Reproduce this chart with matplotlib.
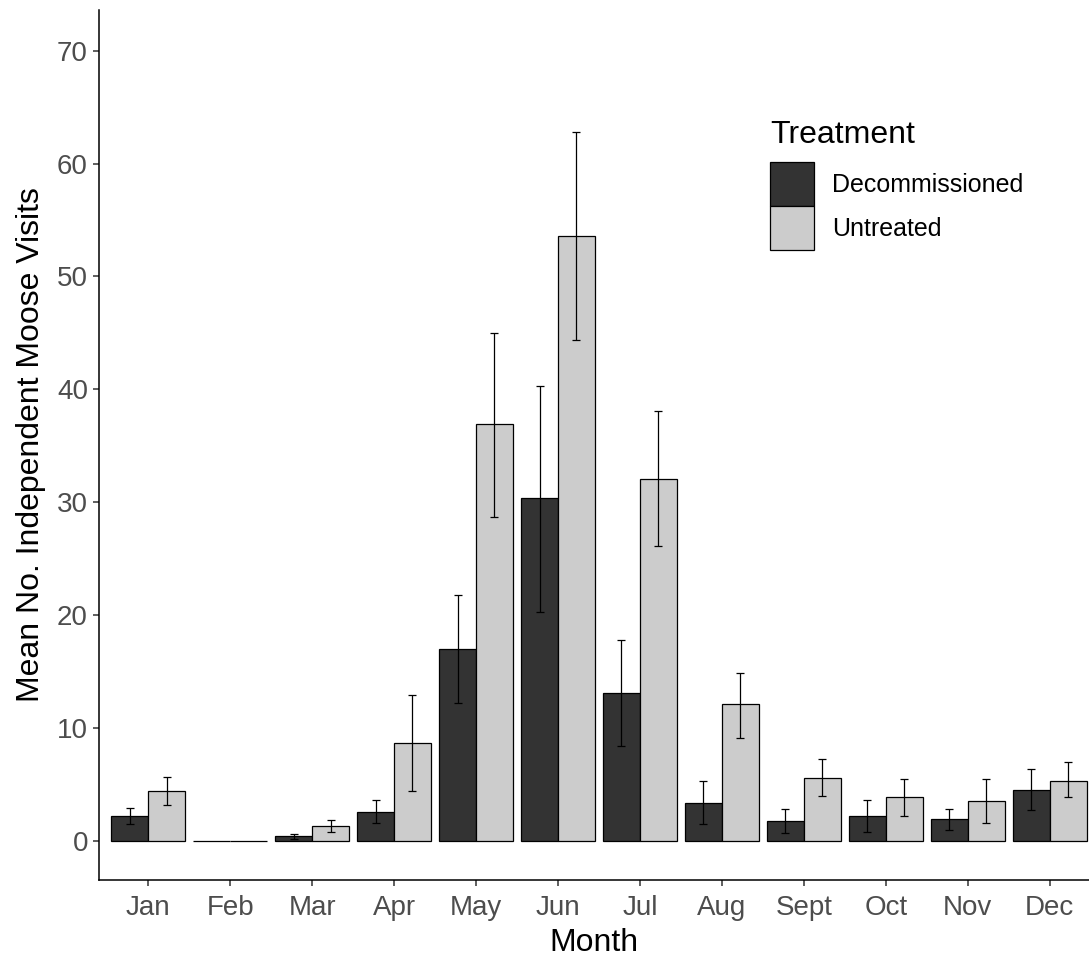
import numpy as np
import matplotlib
matplotlib.use('Agg')
import matplotlib.pyplot as plt
from matplotlib.patches import Patch

plt.rcParams['font.family'] = ['Liberation Sans', 'DejaVu Sans']

months = ['Jan', 'Feb', 'Mar', 'Apr', 'May', 'Jun', 'Jul', 'Aug', 'Sept', 'Oct', 'Nov', 'Dec']
treatments = ['Decommissioned', 'Untreated']

# mean visits and error bar ends
decom_mean = [2.2, 0.0, 0.4, 2.6, 17.0, 30.4, 13.1, 3.4, 1.8, 2.2, 1.95, 4.5]
decom_lo = [1.5, np.nan, 0.2, 1.6, 12.2, 20.3, 8.4, 1.5, 0.7, 0.8, 1.0, 2.7]
decom_hi = [2.9, np.nan, 0.6, 3.6, 21.8, 40.3, 17.8, 5.3, 2.8, 3.6, 2.8, 6.35]

untr_mean = [4.4, 0.0, 1.3, 8.65, 36.9, 53.6, 32.1, 12.1, 5.6, 3.85, 3.55, 5.35]
untr_lo = [3.2, np.nan, 0.75, 4.4, 28.7, 44.4, 26.1, 9.15, 3.95, 2.25, 1.6, 3.85]
untr_hi = [5.7, np.nan, 1.85, 12.9, 45.0, 62.8, 38.1, 14.9, 7.3, 5.5, 5.5, 6.95]

colors = ['#333333', '#cccccc']

fig = plt.figure(figsize=(10.89, 9.6), dpi=100)
ax = fig.add_axes([99/1089, 80/960, 990/1089, 870/960])

x = np.arange(1, len(months) + 1)
w = 0.45
series = [(decom_mean, decom_lo, decom_hi), (untr_mean, untr_lo, untr_hi)]
for i, (m, lo, hi) in enumerate(series):
    xs = x + (i - 0.5) * w
    m = np.array(m)
    ax.bar(xs, m, width=w, color=colors[i], edgecolor='black', linewidth=0.9, zorder=2)
    err = np.vstack([m - np.array(lo), np.array(hi) - m])
    ax.errorbar(xs, m, yerr=err, fmt='none', ecolor='black', elinewidth=0.9,
                capsize=3, capthick=0.9, zorder=3)

ax.set_xlim(0.4, 12.48)
ax.set_ylim(-3.46, 73.6)
ax.set_xticks(x)
ax.set_xticklabels(months)
ax.set_yticks(np.arange(0, 71, 10))

for s in ['top', 'right']:
    ax.spines[s].set_visible(False)
for s in ['left', 'bottom']:
    ax.spines[s].set_linewidth(1.1)
ax.tick_params(axis='both', length=4, width=1.1, color='#333333',
               labelsize=20, labelcolor='#4d4d4d')
ax.tick_params(axis='x', pad=7)
ax.tick_params(axis='y', pad=4)

ax.set_xlabel('Month', fontsize=23, labelpad=5)
ax.set_ylabel('Mean No. Independent Moose Visits', fontsize=23, labelpad=8)

# legend: title drawn separately so it can sit apart from the keys
fig.text(770/1089, 1 - 143/960, 'Treatment', fontsize=23, va='baseline', ha='left')
handles = [Patch(facecolor=colors[i], edgecolor='black', linewidth=0.9, label=t)
           for i, t in enumerate(treatments)]
leg = ax.legend(handles=handles, loc='upper left',
                bbox_to_anchor=(770/1089, 1 - 162/960), bbox_transform=fig.transFigure,
                frameon=False, fontsize=18,
                handlelength=1.76, handleheight=2.33, labelspacing=0.0,
                handletextpad=0.72, borderpad=0, borderaxespad=0)

fig.savefig('out.png', dpi=100)
